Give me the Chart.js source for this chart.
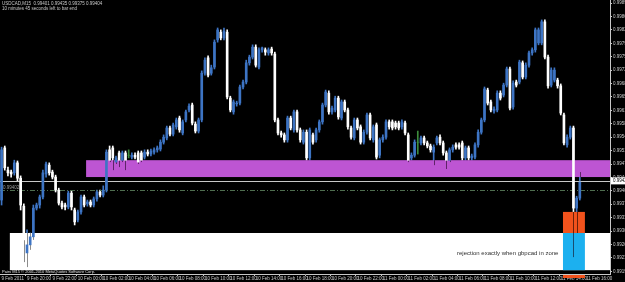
<!DOCTYPE html>
<html>
<head>
<meta charset="utf-8">
<script src="https://cdn.jsdelivr.net/npm/chart.js@4.4.0/dist/chart.umd.min.js"></script>
<style>
  html, body { margin: 0; padding: 0; background: #000; }
</style>
</head>
<body>
<canvas id="chart" width="625" height="282"></canvas>
<script>
// USDCAD M15, 15-minute bars starting 9 Feb 2011 18:00
const opens = [
  0.99381,0.99517,0.99459,0.99454,0.99452,0.99478,0.99438,0.99365,0.99243,0.99264,
  0.99285,0.99360,0.99368,0.99389,0.99449,0.99472,0.99454,0.99441,0.99407,0.99373,
  0.99368,0.99363,0.99399,0.99355,0.99329,0.99350,0.99389,0.99371,0.99376,0.99368,
  0.99384,0.99402,0.99394,0.99407,0.99512,0.99517,0.99480,0.99504,0.99485,0.99504,
  0.99498,0.99493,0.99498,0.99504,0.99504,0.99493,0.99506,0.99501,0.99506,0.99512,
  0.99514,0.99532,0.99543,0.99569,0.99553,0.99572,0.99595,0.99556,0.99590,0.99616,
  0.99629,0.99579,0.99561,0.99590,0.99712,0.99752,0.99712,0.99728,0.99799,0.99819,
  0.99804,0.99819,0.99647,0.99611,0.99632,0.99634,0.99676,0.99689,0.99739,0.99754,
  0.99780,0.99728,0.99773,0.99773,0.99765,0.99775,0.99762,0.99590,0.99556,0.99551,
  0.99538,0.99595,0.99564,0.99611,0.99564,0.99532,0.99558,0.99491,0.99551,0.99538,
  0.99564,0.99585,0.99629,0.99660,0.99611,0.99616,0.99647,0.99595,0.99637,0.99616,
  0.99569,0.99543,0.99590,0.99572,0.99532,0.99558,0.99603,0.99538,0.99577,0.99498,
  0.99538,0.99545,0.99585,0.99585,0.99582,0.99582,0.99572,0.99582,0.99551,0.99491,
  0.99498,0.99532,0.99530,0.99543,0.99530,0.99522,0.99506,0.99530,0.99545,0.99530,
  0.99504,0.99485,0.99512,0.99525,0.99525,0.99530,0.99491,0.99517,0.99491,0.99493,
  0.99525,0.99558,0.99590,0.99668,0.99637,0.99613,0.99616,0.99660,0.99655,0.99681,
  0.99723,0.99624,0.99689,0.99689,0.99739,0.99702,0.99733,0.99765,0.99773,0.99791,
  0.99791,0.99846,0.99754,0.99681,0.99694,0.99694,0.99679,0.99603,0.99525,0.99545,
  0.99569,0.99360,0.99386
];
const highs = [
  0.99519,0.99522,0.99467,0.99459,0.99485,0.99483,0.99444,0.99371,0.99303,0.99295,
  0.99368,0.99373,0.99394,0.99459,0.99480,0.99478,0.99459,0.99446,0.99412,0.99378,
  0.99373,0.99404,0.99404,0.99360,0.99355,0.99394,0.99394,0.99381,0.99381,0.99389,
  0.99407,0.99407,0.99418,0.99512,0.99522,0.99522,0.99496,0.99509,0.99509,0.99509,
  0.99512,0.99504,0.99504,0.99509,0.99509,0.99512,0.99512,0.99514,0.99517,0.99522,
  0.99538,0.99551,0.99574,0.99574,0.99582,0.99595,0.99600,0.99590,0.99616,0.99632,
  0.99634,0.99585,0.99595,0.99718,0.99752,0.99757,0.99733,0.99799,0.99830,0.99825,
  0.99830,0.99825,0.99652,0.99642,0.99639,0.99681,0.99694,0.99746,0.99759,0.99786,
  0.99786,0.99778,0.99780,0.99778,0.99778,0.99780,0.99767,0.99595,0.99561,0.99556,
  0.99600,0.99600,0.99616,0.99616,0.99569,0.99564,0.99564,0.99569,0.99556,0.99569,
  0.99590,0.99634,0.99668,0.99666,0.99626,0.99652,0.99652,0.99642,0.99642,0.99621,
  0.99574,0.99595,0.99595,0.99577,0.99564,0.99608,0.99608,0.99577,0.99582,0.99543,
  0.99551,0.99590,0.99590,0.99590,0.99587,0.99587,0.99590,0.99587,0.99556,0.99504,
  0.99538,0.99561,0.99548,0.99548,0.99535,0.99527,0.99525,0.99548,0.99551,0.99535,
  0.99509,0.99517,0.99525,0.99530,0.99530,0.99535,0.99522,0.99522,0.99501,0.99530,
  0.99564,0.99595,0.99676,0.99673,0.99642,0.99624,0.99666,0.99666,0.99686,0.99728,
  0.99728,0.99692,0.99694,0.99746,0.99744,0.99739,0.99770,0.99778,0.99830,0.99830,
  0.99851,0.99851,0.99759,0.99726,0.99726,0.99699,0.99684,0.99608,0.99551,0.99574,
  0.99574,0.99391,0.99454
];
const lows = [
  0.99368,0.99459,0.99444,0.99441,0.99446,0.99431,0.99355,0.99219,0.99206,0.99251,
  0.99277,0.99355,0.99360,0.99384,0.99441,0.99446,0.99436,0.99402,0.99368,0.99358,
  0.99355,0.99358,0.99355,0.99316,0.99324,0.99344,0.99363,0.99365,0.99363,0.99363,
  0.99378,0.99389,0.99389,0.99402,0.99480,0.99459,0.99475,0.99467,0.99480,0.99459,
  0.99491,0.99488,0.99488,0.99475,0.99480,0.99488,0.99496,0.99496,0.99501,0.99506,
  0.99509,0.99527,0.99538,0.99548,0.99548,0.99566,0.99558,0.99551,0.99585,0.99611,
  0.99577,0.99556,0.99556,0.99585,0.99707,0.99702,0.99707,0.99723,0.99793,0.99799,
  0.99799,0.99645,0.99611,0.99605,0.99626,0.99629,0.99671,0.99684,0.99733,0.99749,
  0.99728,0.99723,0.99767,0.99759,0.99759,0.99759,0.99585,0.99551,0.99545,0.99532,
  0.99532,0.99564,0.99558,0.99558,0.99532,0.99527,0.99485,0.99485,0.99527,0.99532,
  0.99558,0.99579,0.99624,0.99605,0.99605,0.99611,0.99592,0.99590,0.99611,0.99566,
  0.99540,0.99538,0.99564,0.99527,0.99527,0.99553,0.99538,0.99532,0.99488,0.99491,
  0.99532,0.99540,0.99566,0.99564,0.99566,0.99564,0.99566,0.99551,0.99480,0.99485,
  0.99493,0.99501,0.99525,0.99525,0.99517,0.99506,0.99472,0.99525,0.99525,0.99498,
  0.99462,0.99480,0.99506,0.99514,0.99514,0.99485,0.99485,0.99485,0.99485,0.99488,
  0.99519,0.99553,0.99585,0.99629,0.99611,0.99608,0.99611,0.99642,0.99650,0.99676,
  0.99616,0.99618,0.99676,0.99684,0.99697,0.99697,0.99728,0.99759,0.99767,0.99786,
  0.99786,0.99749,0.99673,0.99676,0.99689,0.99673,0.99603,0.99525,0.99519,0.99540,
  0.99232,0.99295,0.99381
];
const closes = [
  0.99512,0.99465,0.99452,0.99449,0.99478,0.99438,0.99368,0.99277,0.99264,0.99285,
  0.99360,0.99368,0.99389,0.99452,0.99475,0.99452,0.99441,0.99407,0.99373,0.99363,
  0.99363,0.99399,0.99363,0.99324,0.99350,0.99389,0.99368,0.99376,0.99368,0.99384,
  0.99402,0.99394,0.99407,0.99506,0.99485,0.99491,0.99491,0.99485,0.99504,0.99485,
  0.99498,0.99498,0.99493,0.99480,0.99485,0.99506,0.99501,0.99509,0.99512,0.99517,
  0.99532,0.99545,0.99569,0.99553,0.99577,0.99590,0.99564,0.99585,0.99611,0.99626,
  0.99582,0.99561,0.99590,0.99712,0.99746,0.99707,0.99726,0.99793,0.99825,0.99804,
  0.99822,0.99650,0.99616,0.99637,0.99634,0.99676,0.99689,0.99739,0.99754,0.99780,
  0.99733,0.99773,0.99778,0.99767,0.99773,0.99765,0.99590,0.99556,0.99551,0.99538,
  0.99595,0.99569,0.99611,0.99564,0.99538,0.99558,0.99491,0.99564,0.99532,0.99564,
  0.99585,0.99629,0.99663,0.99611,0.99621,0.99647,0.99598,0.99637,0.99616,0.99572,
  0.99545,0.99590,0.99569,0.99532,0.99558,0.99603,0.99543,0.99572,0.99493,0.99538,
  0.99545,0.99585,0.99572,0.99569,0.99572,0.99569,0.99585,0.99556,0.99485,0.99498,
  0.99532,0.99532,0.99543,0.99530,0.99522,0.99512,0.99519,0.99543,0.99530,0.99504,
  0.99485,0.99512,0.99519,0.99519,0.99519,0.99491,0.99517,0.99491,0.99496,0.99525,
  0.99558,0.99590,0.99671,0.99634,0.99616,0.99618,0.99660,0.99647,0.99681,0.99723,
  0.99621,0.99686,0.99681,0.99741,0.99702,0.99733,0.99765,0.99773,0.99825,0.99825,
  0.99846,0.99754,0.99679,0.99720,0.99720,0.99679,0.99608,0.99530,0.99545,0.99569,
  0.99360,0.99386,0.99428
];

// price axis labels as printed on the right
const yTicks = [
  0.99895, 0.99860, 0.99825, 0.99790, 0.99755, 0.99720, 0.99685,
  0.99650, 0.99615, 0.99580, 0.99545, 0.99510, 0.99475, 0.99440,
  0.99405, 0.99370, 0.99335, 0.99300, 0.99265, 0.99230, 0.99195
];

// drawn objects: price ranges, bar ranges (fractional bar index)
const zones = [
  { from: 26.6, to: null, top: 0.99485, bottom: 0.99441, color: "#bd55d3", wick: "#5e2468" },
  { from: 2.6, to: null, top: 0.99295, bottom: 0.99198, color: "#ffffff", wick: "#8c8c8c" },
  { from: 176.7, to: 183.6, top: 0.99350, bottom: 0.99295, color: "#f2521c", wick: "#6a200a" },
  { from: 176.7, to: 183.6, top: 0.99295, bottom: 0.99198, color: "#1cb0ef", wick: "#184d70" },
];
const bidLine = 0.99431;
const dashLine = 0.99407;

const totalSlots = 192;
const barTimes = [];
(function () {
  const start = Date.UTC(2011, 1, 9, 18, 0);
  const pad = (n) => (n < 10 ? "0" + n : "" + n);
  for (let i = 0; i < totalSlots; i++) {
    const d = new Date(start + i * 900000);
    barTimes.push(d.getUTCDate() + " Feb " + pad(d.getUTCHours()) + ":" + pad(d.getUTCMinutes()));
  }
})();

const BLUE = "#3d74c4";
const WHITE = "#ffffff";
const DOJI = "#3c8c3c";
const colors = opens.map((o, i) =>
  closes[i] > o ? BLUE : closes[i] < o ? WHITE : DOJI
);

const small = { family: "Liberation Sans", size: 4.5 };

const overlay = {
  id: "overlay",
  beforeDatasetDraw(chart, args) {
    if (args.index !== 0) return;
    const { ctx, chartArea: a, scales } = chart;
    const x = scales.x, y = scales.y;
    ctx.save();
    zones.forEach((z) => {
      const x0 = x.getPixelForValue(z.from);
      const x1 = z.to === null ? a.right : x.getPixelForValue(z.to);
      const y0 = y.getPixelForValue(z.top);
      const y1 = y.getPixelForValue(z.bottom);
      ctx.fillStyle = z.color;
      ctx.fillRect(x0, y0, x1 - x0, y1 - y0);
      // wick parts inside the object show darkened, as in the terminal
      ctx.strokeStyle = z.wick;
      ctx.lineWidth = 1;
      for (let i = 0; i < lows.length; i++) {
        const px = x.getPixelForValue(i);
        if (px < x0 || px > x1) continue;
        const hi = Math.min(highs[i], z.top), lo = Math.max(lows[i], z.bottom);
        if (hi <= lo) continue;
        ctx.beginPath();
        ctx.moveTo(Math.round(px) + 0.5, y.getPixelForValue(hi));
        ctx.lineTo(Math.round(px) + 0.5, y.getPixelForValue(lo));
        ctx.stroke();
      }
    });
    // bid line
    let py = Math.round(y.getPixelForValue(bidLine)) + 0.5;
    ctx.strokeStyle = "#c8c8c8";
    ctx.lineWidth = 1;
    ctx.beginPath();
    ctx.moveTo(a.left, py);
    ctx.lineTo(a.right, py);
    ctx.stroke();
    // dash-dot horizontal line
    py = Math.round(y.getPixelForValue(dashLine)) + 0.5;
    ctx.strokeStyle = "#4f6e4f";
    ctx.setLineDash([5, 2, 1, 2]);
    ctx.beginPath();
    ctx.moveTo(a.left, py);
    ctx.lineTo(a.right, py);
    ctx.stroke();
    ctx.restore();
  },
  afterDraw(chart) {
    const { ctx, chartArea: a, scales } = chart;
    const y = scales.y, x = scales.x;
    ctx.save();
    ctx.textBaseline = "middle";
    ctx.fillStyle = "#c8c8c8";
    ctx.font = "4.5px 'Liberation Sans'";
    ctx.fillText("USDCAD,M15  0.99401 0.99435 0.99375 0.99404", 2, 4);
    ctx.fillText("10 minutes 45 seconds left to bar end", 2, 9);
    ctx.fillStyle = "#9a9a9a";
    ctx.fillText("0.99402", 3, y.getPixelForValue(dashLine) - 2.5);
    ctx.fillStyle = "#e0e0e0";
    ctx.font = "4px 'Liberation Sans'";
    ctx.fillText("Pairs M15 \u00a9 2001-2010 MetaQuotes Software Corp.", 2, a.bottom - 1.8);
    // rejection note
    ctx.fillStyle = "#303030";
    ctx.font = "6px 'Liberation Sans'";
    ctx.fillText("rejection exactly when gbpcad in zone", 457, 253);
    // current price box
    const py = y.getPixelForValue(bidLine);
    ctx.fillStyle = "#ffffff";
    ctx.fillRect(a.right + 1, py - 3.5, 20, 7);
    ctx.fillStyle = "#000000";
    ctx.font = "4.5px 'Liberation Sans'";
    ctx.fillText("0.99428", a.right + 3, py);
    // orange marker under time axis
    ctx.fillStyle = "#f2521c";
    const x0 = x.getPixelForValue(176.7), x1 = x.getPixelForValue(183.6);
    ctx.fillRect(x0, a.bottom + 1, x1 - x0, 3);
    ctx.restore();
  },
};

new Chart(document.getElementById("chart"), {
  type: "bar",
  data: {
    labels: barTimes,
    datasets: [
      {
        label: "body",
        data: opens.map((o, i) => [o, closes[i]]),
        backgroundColor: colors,
        barThickness: 2,
        grouped: false,
        order: 0,
      },
      {
        label: "wick",
        data: lows.map((l, i) => [l, highs[i]]),
        backgroundColor: colors,
        barThickness: 1,
        grouped: false,
        order: 1,
      },
    ],
  },
  options: {
    responsive: false,
    animation: false,
    layout: { padding: 0 },
    plugins: { legend: { display: false }, tooltip: { enabled: false } },
    scales: {
      x: {
        type: "category",
        offset: true,
        afterFit: (s) => {
          s.height = 8;
          s.paddingLeft = 0;
          s.paddingRight = 0;
        },
        ticks: {
          autoSkip: false,
          maxRotation: 0,
          minRotation: 0,
          align: "start",
          padding: 0,
          color: "#c8c8c8",
          font: small,
          callback: (v, i) => (i % 8 === 0 ? (i === 0 ? "9 Feb 2011" : barTimes[i]) : ""),
        },
        grid: {
          drawOnChartArea: false,
          tickLength: 2,
          color: (c) => (c.index % 8 === 0 ? "#c8c8c8" : "rgba(0,0,0,0)"),
        },
        border: { color: "#c8c8c8" },
      },
      y: {
        position: "right",
        min: 0.99188,
        max: 0.99903,
        afterBuildTicks: (s) => {
          s.ticks = yTicks.map((v) => ({ value: v }));
        },
        afterFit: (s) => {
          s.width = 15;
          s.paddingTop = 0;
          s.paddingBottom = 0;
        },
        ticks: {
          color: "#c8c8c8",
          font: small,
          padding: 1,
          crossAlign: "near",
          callback: (v) => Number(v).toFixed(5),
        },
        grid: { drawOnChartArea: false, tickLength: 2, color: "#c8c8c8" },
        border: { color: "#c8c8c8" },
      },
    },
  },
  plugins: [overlay],
});
</script>
</body>
</html>
